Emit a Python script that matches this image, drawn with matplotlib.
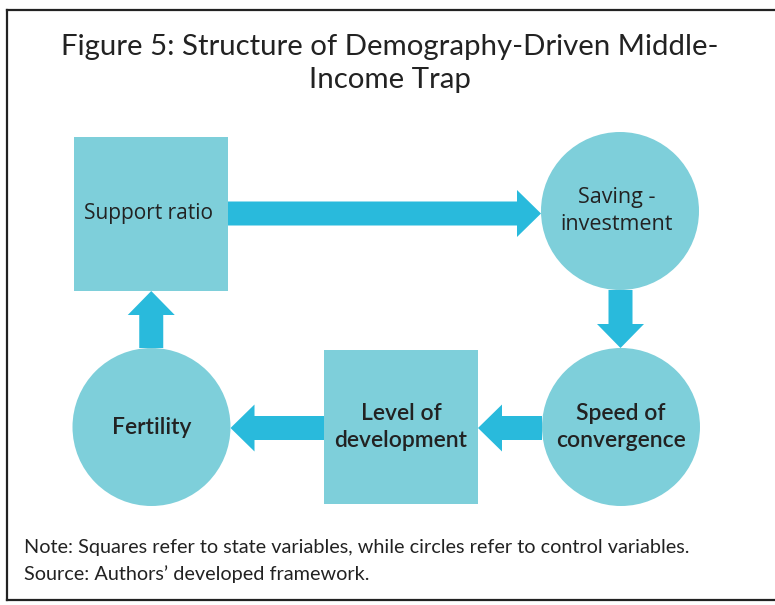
import matplotlib
matplotlib.use('Agg')
import matplotlib.pyplot as plt
from matplotlib.patches import Rectangle, Circle, FancyArrow
from matplotlib.lines import Line2D

# chart content
title_lines = ['Figure 5: Structure of Demography-Driven Middle-', 'Income Trap']
node_labels = ['Support ratio', 'Saving -\ninvestment', 'Speed of\nconvergence', 'Level of\ndevelopment', 'Fertility']
node_shapes = ['square', 'circle', 'circle', 'square', 'circle']
edges = [(0, 1), (1, 2), (2, 3), (3, 4), (4, 0)]
notes = ['Note: Squares refer to state variables, while circles refer to control variables.',
         'Source: Authors\u2019 developed framework.']

# layout in pixel units (y down)
W, H = 775, 605
centers = [(151, 214), (620, 211), (621, 427), (401, 427), (151.5, 427)]
half = 77      # half side of squares
radius = 79    # circle radius
label_font = ['Open Sans', 'Open Sans', 'Lato', 'Lato', 'Lato']
label_weight = ['normal', 'normal', 'semibold', 'semibold', 'semibold']
label_size = [15, 15.5, 16.5, 16.5, 16.5]

box_color = '#7ecfda'
arrow_color = '#29badc'
text_color = '#222222'

fig = plt.figure(figsize=(W / 100, H / 100), dpi=100)
ax = fig.add_axes([0, 0, 1, 1])
ax.set_xlim(0, W)
ax.set_ylim(H, 0)
ax.axis('off')

# frame (right side runs off the picture)
for xs, ys in [([7, 7], [10, 600]), ([7, W], [10, 10]), ([7, W], [600, 600])]:
    ax.add_line(Line2D(xs, ys, color=text_color, lw=1.6))

ax.text(390, 47, title_lines[0], ha='center', va='center', fontsize=21.2, family='Lato', color=text_color)
ax.text(390, 80, title_lines[1], ha='center', va='center', fontsize=21.2, family='Lato', color=text_color)


def edge_point(i, direction):
    cx, cy = centers[i]
    dx, dy = direction
    r = half if node_shapes[i] == 'square' else radius
    return cx + dx * r, cy + dy * r


for a, b in edges:
    ax_, ay_ = centers[a]
    bx_, by_ = centers[b]
    if abs(bx_ - ax_) > abs(by_ - ay_):
        d = (1 if bx_ > ax_ else -1, 0)
        y = (ay_ + by_) / 2 + 1
        x0, _ = edge_point(a, d)
        x1, _ = edge_point(b, (-d[0], 0))
        start, end = (x0, y), (x1, y)
    else:
        d = (0, 1 if by_ > ay_ else -1)
        x = (ax_ + bx_) / 2
        _, y0 = edge_point(a, d)
        _, y1 = edge_point(b, (0, -d[1]))
        start, end = (x, y0), (x, y1)
    ax.add_patch(FancyArrow(start[0], start[1], end[0] - start[0], end[1] - start[1],
                            width=24, head_width=47, head_length=24,
                            length_includes_head=True, color=arrow_color, lw=0, zorder=1))

for i, lab in enumerate(node_labels):
    cx, cy = centers[i]
    if node_shapes[i] == 'square':
        ax.add_patch(Rectangle((cx - half, cy - half), 2 * half, 2 * half, color=box_color, lw=0, zorder=2))
    else:
        ax.add_patch(Circle((cx, cy), radius, color=box_color, lw=0, zorder=2))
    ax.text(cx - 3 if i < 2 else cx, cy, lab, ha='center', va='center', fontsize=label_size[i],
            family=label_font[i], fontweight=label_weight[i], color=text_color,
            linespacing=1.4, zorder=3)

ax.text(24, 548, notes[0], ha='left', va='center', fontsize=14.3, family='Lato', color=text_color)
ax.text(24, 574, notes[1], ha='left', va='center', fontsize=14.3, family='Lato', color=text_color)

fig.savefig('out.png', dpi=100)
